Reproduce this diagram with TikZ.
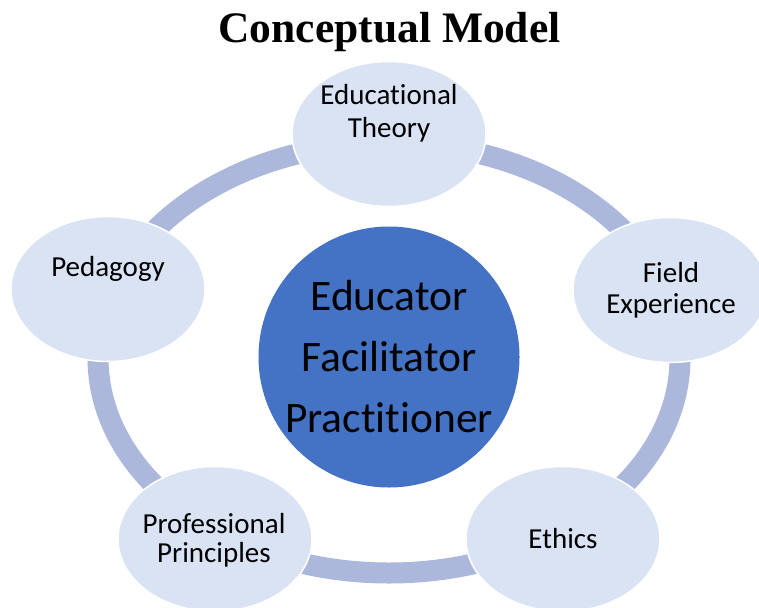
\documentclass[tikz,border=0pt]{standalone}
\usepackage{fontspec}
\setmainfont{Carlito}[Ligatures={NoCommon,NoRequired,NoContextual}]
\newfontfamily\titlefont{Liberation Serif}
\usetikzlibrary{shapes.geometric}
\definecolor{ringblue}{HTML}{ABB8DC}
\definecolor{satfill}{HTML}{DAE3F3}
\definecolor{hubfill}{HTML}{4472C4}
\begin{document}
\begin{tikzpicture}[x=1pt,y=-1pt,
  sat/.style={ellipse, fill=satfill, draw=white, line width=1.5pt,
    minimum width=194pt, minimum height=145pt, inner sep=0pt},
  hub/.style={circle, fill=hubfill, minimum size=261pt, inner sep=0pt},
  satlabel/.style={anchor=base, inner sep=0pt, text=black,
    font=\fontsize{29}{35}\selectfont},
  hublabel/.style={anchor=base, inner sep=0pt, text=black,
    font=\fontsize{43.5}{50}\selectfont},
  titlelabel/.style={anchor=base, inner sep=0pt, text=black,
    font=\titlefont\bfseries\fontsize{43.5}{50}\selectfont},
  ring/.style={draw=ringblue, line width=21pt}]
\useasboundingbox (0,0) rectangle (759,607);
\fill[white] (0,0) rectangle (759,607);
\node[titlelabel] (title) at (389.5,42.5) {Conceptual Model};
\coordinate (ringc) at (389,358);
\draw[ring] (ringc) ellipse [x radius=291pt, y radius=215pt];
\node[hub] (hub) at (389,357) {};
\node[hublabel] (hub1) at (389,310) {Educator};
\node[hublabel] (hub2) at (389,371.5) {Facilitator};
\node[hublabel] (hub3) at (389,432.5) {Practitioner};
\node[sat] (et) at (389,134) {};
\node[sat] (fe) at (670,290) {};
\node[sat] (eth) at (563,539) {};
\node[sat] (pp) at (215,539) {};
\node[sat] (ped) at (108,289) {};
\node[satlabel] (et1) at (389,105) {Educational};
\node[satlabel] (et2) at (389,137) {Theory};
\node[satlabel] (fe1) at (671,282) {Field};
\node[satlabel] (fe2) at (671,313) {Experience};
\node[satlabel] (eth1) at (563,548) {Ethics};
\node[satlabel] (pp1) at (214,533) {Professional};
\node[satlabel] (pp2) at (214,562) {Principles};
\node[satlabel] (ped1) at (108,276) {Pedagogy};
\end{tikzpicture}
\end{document}
